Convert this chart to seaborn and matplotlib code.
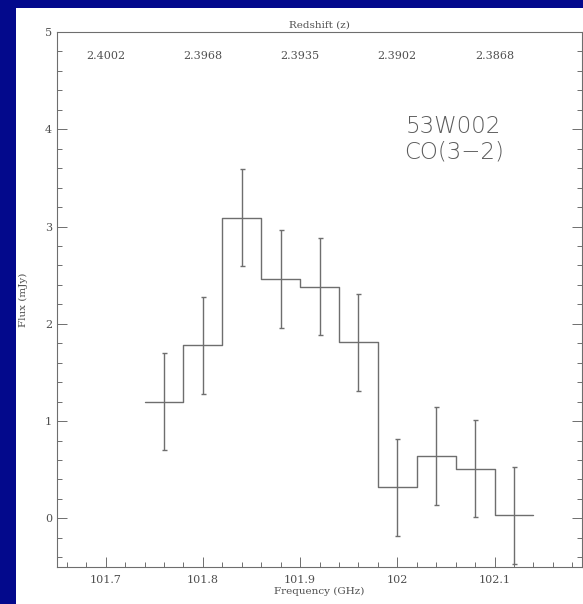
import matplotlib
matplotlib.use("Agg")
import matplotlib.pyplot as plt
import seaborn as sns
import pandas as pd
from matplotlib.patches import Rectangle
from matplotlib.ticker import MultipleLocator

# channel centres (GHz), flux (mJy) and 1-sigma errors
freq = [101.76, 101.80, 101.84, 101.88, 101.92, 101.96, 102.00, 102.04, 102.08, 102.12]
flux = [1.20, 1.78, 3.09, 2.46, 2.38, 1.81, 0.32, 0.64, 0.51, 0.03]
flux_err = [0.50, 0.50, 0.50, 0.50, 0.50, 0.50, 0.50, 0.50, 0.50, 0.50]
chan_width = 0.04

freq_ticks = [101.7, 101.8, 101.9, 102.0, 102.1]
freq_labels = ['101.7', '101.8', '101.9', '102', '102.1']
z_labels = ['2.4002', '2.3968', '2.3935', '2.3902', '2.3868']

sns.set_style('ticks')
plt.rcParams['font.family'] = ['DejaVu Serif']

grey = '#6e6e6e'
txt = '#505050'
fig = plt.figure(figsize=(5.83, 6.04), dpi=100)
fig.patch.set_facecolor('#03098c')
# white slide panel behind the plot
fig.add_artist(Rectangle((16 / 583, 0), 1, (604 - 8) / 604, transform=fig.transFigure,
                         facecolor='white', edgecolor='none', zorder=0))

ax = fig.add_axes([57 / 583, 37 / 604, 525 / 583, 535 / 604])
ax.set_facecolor('white')

# step spectrum: bin edges with last value repeated for steps-post
edges = [f - chan_width / 2 for f in freq] + [freq[-1] + chan_width / 2]
df = pd.DataFrame({'edge': edges, 'flux': flux + [flux[-1]]})
sns.lineplot(data=df, x='edge', y='flux', drawstyle='steps-post', color=grey,
             linewidth=1.0, ax=ax, sort=False)
ax.errorbar(freq, flux, yerr=flux_err, fmt='none', ecolor=grey, elinewidth=1.0,
            capsize=1.8, capthick=1.0)

ax.set_xlim(101.65, 102.19)
ax.set_ylim(-0.5, 5)
ax.set_xticks(freq_ticks)
ax.set_xticklabels(freq_labels)
ax.xaxis.set_minor_locator(MultipleLocator(0.02))
ax.yaxis.set_major_locator(MultipleLocator(1))
ax.yaxis.set_minor_locator(MultipleLocator(0.2))
ax.tick_params(which='both', direction='in', top=True, right=True, color=grey,
               labelcolor=txt, labelsize=8)
ax.tick_params(which='major', length=7, width=0.7)
ax.tick_params(which='minor', length=3.5, width=0.7)
ax.tick_params(axis='x', pad=6)
for s in ax.spines.values():
    s.set_color(grey)
    s.set_linewidth(0.8)

ax.set_xlabel('Frequency (GHz)', fontsize=7.5, color=txt, labelpad=1)
ax.set_ylabel('Flux (mJy)', fontsize=7.5, color=txt, labelpad=12)

# redshift labels along the top, drawn inside the frame
top = ax.twiny()
top.set_xlim(ax.get_xlim())
top.set_xticks(freq_ticks)
top.set_xticklabels(z_labels)
top.tick_params(direction='in', length=0, pad=-21, labelsize=8, labelcolor=txt)
top.set_xlabel('Redshift (z)', fontsize=7.5, color=txt, labelpad=3)
for s in top.spines.values():
    s.set_visible(False)

ax.text(102.058, 3.9, '53W002\nCO(3\u22122)', ha='center', va='center', fontsize=16.5,
        color='#5c5c5c', family='DejaVu Sans', fontweight='light', linespacing=1.15)

fig.savefig('out.png', dpi=100, facecolor=fig.get_facecolor())
